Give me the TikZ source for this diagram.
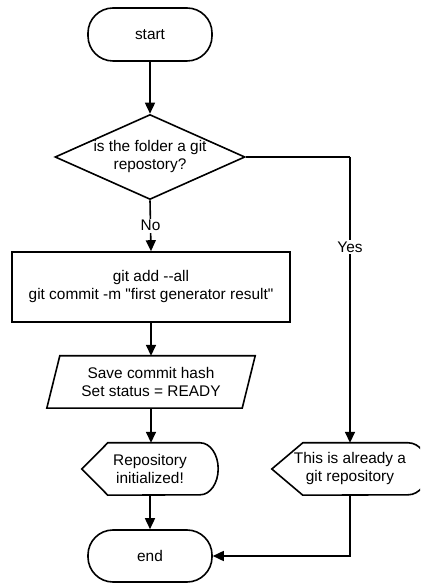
\documentclass[tikz,border=0pt]{standalone}
\usepackage{fontspec}
\setmainfont{Liberation Sans}[Ligatures=TeXOff]
\usetikzlibrary{arrows.meta,shapes.geometric}

\tikzset{
  base/.style={line width=1.6pt, draw=black},
  label text/.style={font=\fontsize{15.4}{18}\selectfont, align=center, text=black},
  terminal/.style={base, rectangle, rounded corners=25pt, minimum width=124pt,
    minimum height=53pt, inner sep=0pt, label text},
  process/.style={base, rectangle, minimum width=278pt, minimum height=70pt,
    inner sep=0pt, label text},
  decision/.style={base, diamond, minimum width=190pt, minimum height=85pt,
    inner sep=0pt},
  frame/.style={rectangle, inner sep=0pt, label text},
  edge/.style={line width=1.6pt, -{Triangle[length=11pt,width=10pt]}},
  plain edge/.style={line width=1.6pt},
  tag/.style={fill=white, inner sep=1.5pt, label text},
}

\begin{document}
\begin{tikzpicture}[x=1pt,y=1pt]
\useasboundingbox (0,0) rectangle (420,583);
\clip (0,0) rectangle (420,583);

% terminals
\node[terminal] (start) at (150,548.5) {start};
\node[terminal, minimum height=52pt] (end) at (150,27) {end};

% decision
\node[decision] (q) at (150,426) {};
\node[label text] (qtext) at (q.center) {is the folder a git\\repostory?};

% process step
\node[process] (commit) at (151,296) {git add --all\\git commit -m "first generator result"};

% input/output step (parallelogram)
\node[frame, minimum width=195pt, minimum height=52pt] (save) at (151,201)
  {Save commit hash\\Set status = READY};
\draw[base, line join=miter]
  ([xshift=6.5pt]save.north west) -- ([xshift=6.5pt]save.north east) --
  ([xshift=-6.5pt]save.south east) -- ([xshift=-6.5pt]save.south west) -- cycle;

% display shapes
\node[frame, minimum width=136pt, minimum height=52pt] (init) at (150,114)
  {Repository\\initialized!};
\draw[base, line join=miter]
  (init.west) -- ([xshift=26pt]init.north west) -- ([xshift=-18pt]init.north east)
  arc[start angle=90, end angle=-90, x radius=18pt, y radius=26pt]
  -- ([xshift=26pt]init.south west) -- cycle;

\node[frame, minimum width=156pt, minimum height=52pt] (already) at (350,114)
  {This is already a\\git repository};
\draw[base, line join=miter]
  (already.west) -- ([xshift=31pt]already.north west) -- ([xshift=-20pt]already.north east)
  arc[start angle=90, end angle=-90, x radius=20pt, y radius=26pt]
  -- ([xshift=31pt]already.south west) -- cycle;

% connectors
\draw[edge] (start.south) -- (q.north);
\draw[edge] (q.south) -- node[tag, pos=0.5] (no) {No} (commit.north);
\draw[edge] (commit.south) -- (save.north -| commit.south);
\draw[edge] (save.south) -- (init.north -| save.south);
\draw[edge] (init.south) -- (end.north);
\coordinate (yesbend) at (q.east -| already.north);
\draw[plain edge] (q.east) -- (yesbend);
\draw[edge] (yesbend) -- node[tag, pos=0.315] (yes) {Yes} (already.north);
\coordinate (endbend) at (already.south |- end.east);
\draw[edge] (already.south) -- (endbend) -- (end.east);
\end{tikzpicture}
\end{document}
